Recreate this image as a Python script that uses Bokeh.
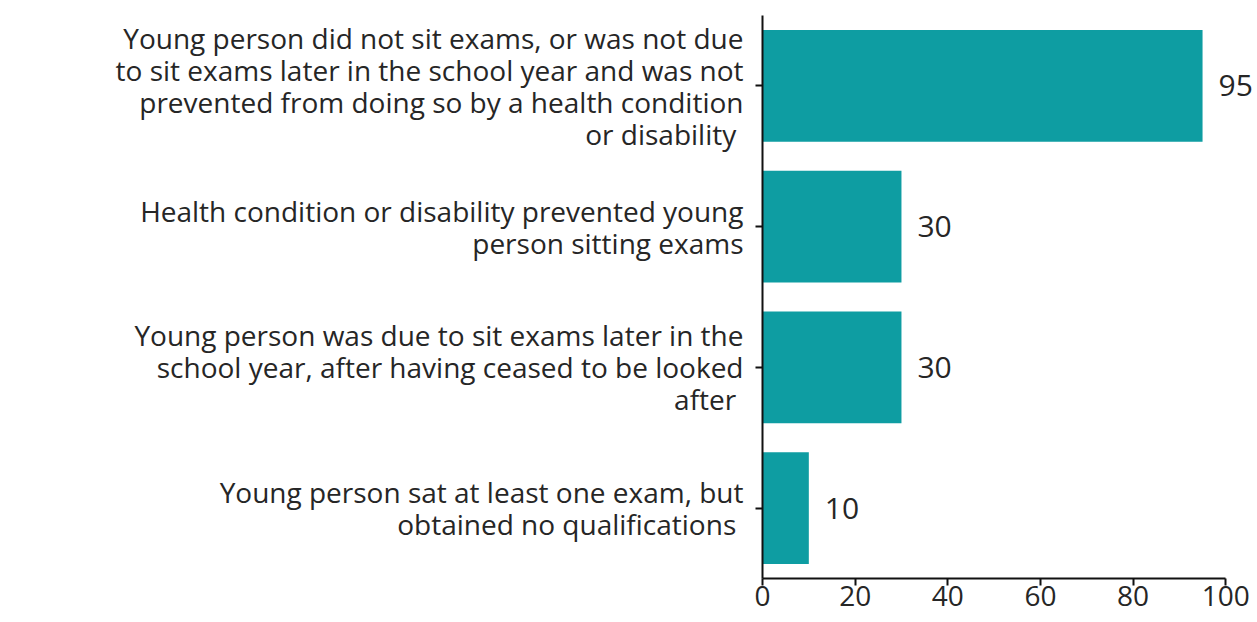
from bokeh.plotting import figure
from bokeh.models import FactorRange, Range1d, ColumnDataSource, FixedTicker
from bokeh.core.properties import value
from bokeh.embed import file_html
from bokeh.resources import INLINE

categories = [
    "Young person did not sit exams, or was not due\nto sit exams later in the school year and was not\nprevented from doing so by a health condition\nor disability ",
    "Health condition or disability prevented young\nperson sitting exams",
    "Young person was due to sit exams later in the\nschool year, after having ceased to be looked\nafter ",
    "Young person sat at least one exam, but\nobtained no qualifications ",
]
values = [95, 30, 30, 10]
x_ticks = [0, 20, 40, 60, 80, 100]

FONT = "Open Sans"
TEXT = "#262626"
TEAL = "#0e9da2"

src = ColumnDataSource(dict(cat=categories, val=values, lab=[str(v) for v in values]))

p = figure(
    width=1255, height=618,
    y_range=FactorRange(factors=list(reversed(categories))),
    x_range=Range1d(0, 106.0),
    output_backend="svg", toolbar_location=None,
    min_border_left=762, min_border_right=2, min_border_top=15, min_border_bottom=40,
)
p.hbar(y="cat", right="val", height=0.795, source=src, color=TEAL, line_color=None)
p.text(x="val", y="cat", text="lab", source=src, x_offset=16,
       text_align="left", text_baseline="middle", text_font=value(FONT),
       text_font_size="30px", text_color=TEXT)

p.outline_line_color = None
p.grid.visible = False
p.y_range.range_padding = 0

p.xaxis.ticker = FixedTicker(ticks=x_ticks)
p.xaxis.bounds = (0, 100)
p.xaxis.minor_tick_line_color = None
p.xaxis.major_tick_in = 0
p.xaxis.major_tick_out = 7
p.xaxis.major_label_text_font = FONT
p.xaxis.major_label_text_font_size = "28px"
p.xaxis.major_label_text_color = TEXT
p.xaxis.major_label_standoff = 0
p.xaxis.major_label_text_line_height = 0.8
p.xaxis.axis_line_width = 2
p.xaxis.major_tick_line_width = 2
p.xaxis.axis_line_color = "#111111"
p.xaxis.major_tick_line_color = "#111111"

p.yaxis.major_tick_in = 0
p.yaxis.major_tick_out = 7
p.yaxis.major_label_text_font = FONT
p.yaxis.major_label_text_font_size = "28px"
p.yaxis.major_label_text_color = TEXT
p.yaxis.major_label_standoff = 12
p.yaxis.major_label_text_line_height = 0.84
p.yaxis.axis_line_width = 2
p.yaxis.major_tick_line_width = 2
p.yaxis.axis_line_color = "#111111"
p.yaxis.major_tick_line_color = "#111111"

open("out.html", "w").write(file_html(p, INLINE))
